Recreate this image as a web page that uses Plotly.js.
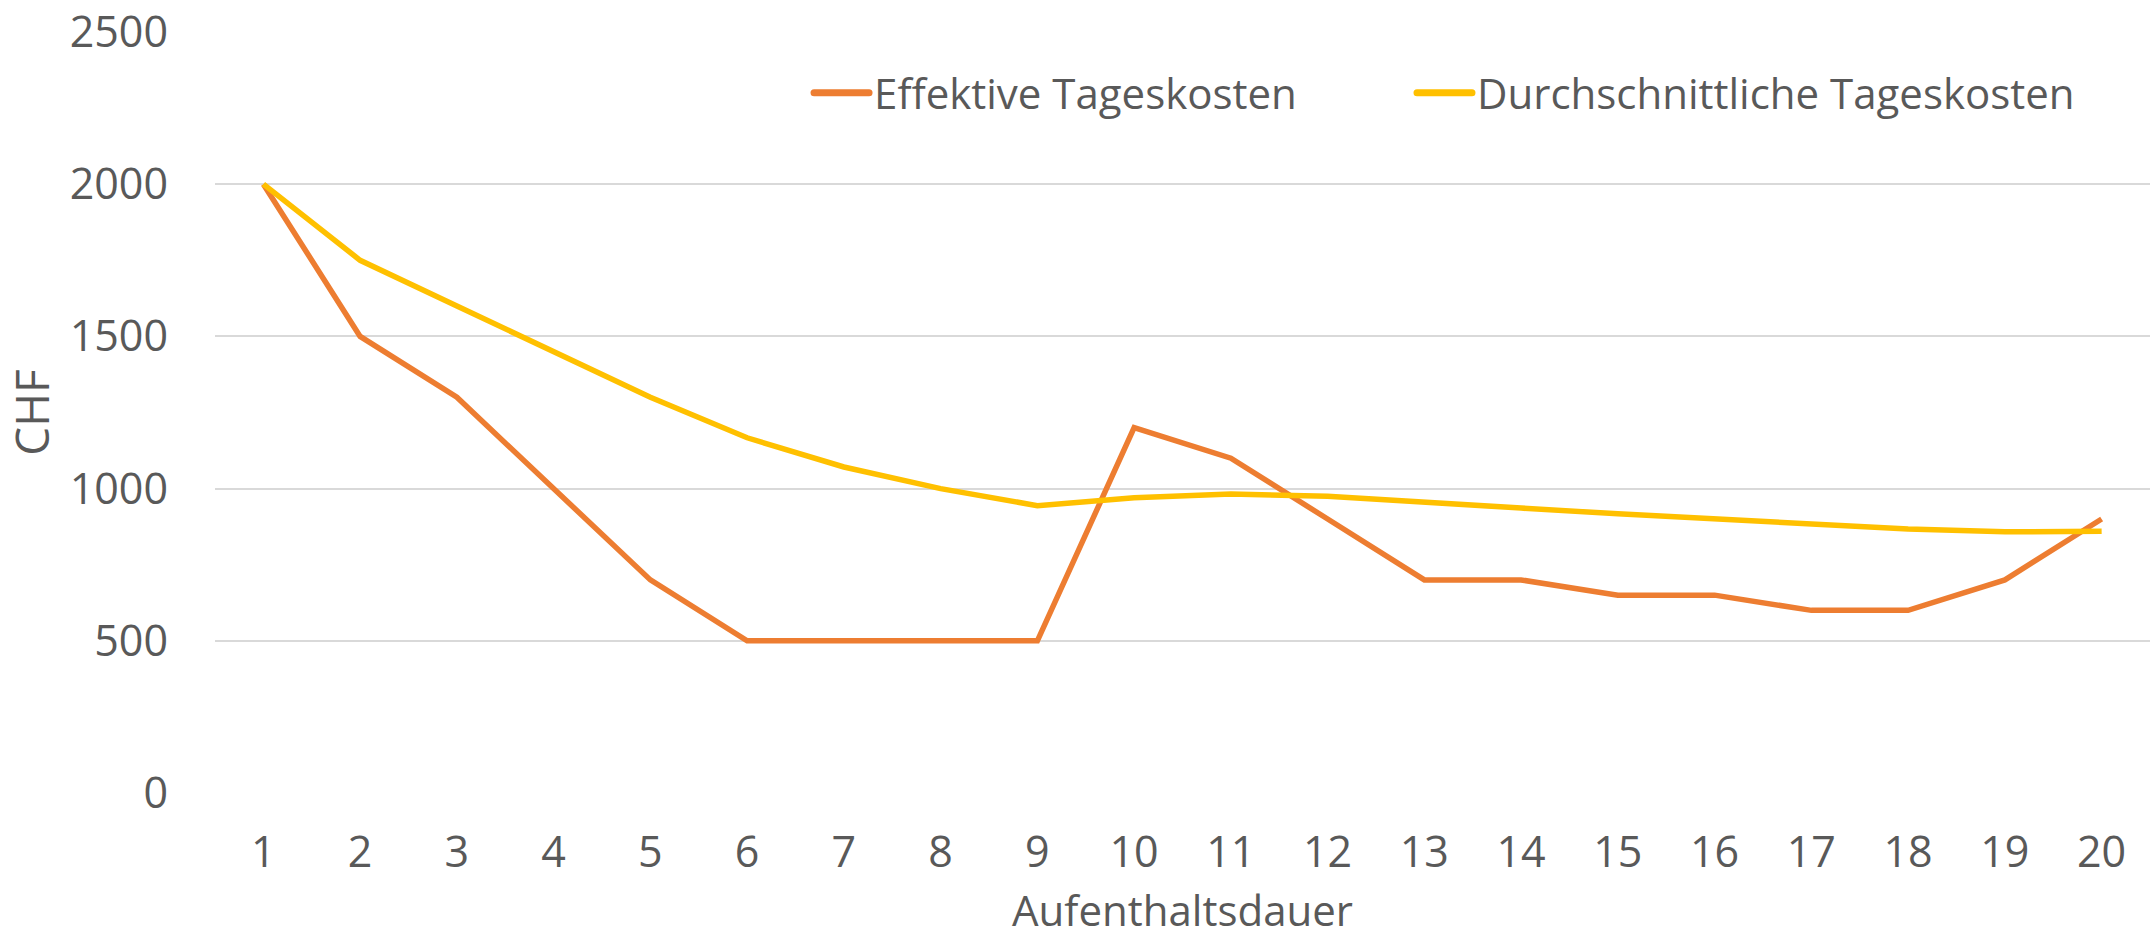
<!DOCTYPE html>
<html>
<head>
<meta charset="utf-8">
<script src="https://cdn.plot.ly/plotly-3.0.1.min.js"></script>
<style>html,body{margin:0;padding:0;background:#fff;}#chart{width:2150px;height:938px;}</style>
</head>
<body>
<div id="chart"></div>
<script>
const days = [1,2,3,4,5,6,7,8,9,10,11,12,13,14,15,16,17,18,19,20];
const effektive = [2000,1500,1300,1000,700,500,500,500,500,1200,1100,900,700,700,650,650,600,600,700,900];
const durchschnitt = [2000,1750,1600,1450,1300,1167,1071,1000,944,970,982,975,954,936,917,900,882,867,858,860];
const tickLabels = days.map(String);
const yTicks = [0,500,1000,1500,2000,2500];

const FONT = '"Open Sans", sans-serif';
const TXT = '#595959';

const traces = [
  {x: days, y: effektive, type: 'scatter', mode: 'lines', name: 'Effektive Tageskosten',
   legend: 'legend',
   line: {color: '#ED7D31', width: 5.5, shape: 'linear'}},
  {x: days, y: durchschnitt, type: 'scatter', mode: 'lines', name: 'Durchschnittliche Tageskosten',
   legend: 'legend2',
   line: {color: '#FFC000', width: 5.5, shape: 'linear'}}
];

const legendBase = {orientation: 'h', xanchor: 'left', y: 0.92, yanchor: 'middle',
  font: {family: FONT, size: 42, color: TXT}, itemwidth: 55, bgcolor: 'rgba(0,0,0,0)'};

const layout = {
  width: 2150, height: 938,
  margin: {l: 215, r: 0, t: 32, b: 145},
  paper_bgcolor: '#fff', plot_bgcolor: '#fff',
  font: {family: FONT, color: TXT, size: 42},
  showlegend: true,
  legend: Object.assign({}, legendBase, {x: 0.307}),
  legend2: Object.assign({}, legendBase, {x: 0.6186}),
  xaxis: {range: [0.5, 20.5], tickmode: 'array', tickvals: days, ticktext: tickLabels,
          showgrid: false, zeroline: false, showline: false, ticks: '',
          ticklabelstandoff: 30,
          tickfont: {family: FONT, size: 43, color: TXT},
          title: {text: 'Aufenthaltsdauer', font: {family: FONT, size: 42, color: TXT}, standoff: 40}},
  yaxis: {range: [0, 2500], tickmode: 'array', tickvals: yTicks, ticktext: yTicks.map(String),
          showgrid: true, gridcolor: '#D9D9D9', gridwidth: 2, zeroline: false, showline: false, ticks: '',
          ticklabelstandoff: 46,
          tickfont: {family: FONT, size: 43, color: TXT},
          title: {text: 'CHF', font: {family: FONT, size: 46, color: TXT}, standoff: 8}}
};

Plotly.newPlot('chart', traces, layout, {displayModeBar: false, staticPlot: true}).then(function (gd) {
  // lengthen legend line samples to match the reference
  gd.querySelectorAll('.legendlines path').forEach(function (p) {
    p.setAttribute('d', 'M5,0h55');
    p.style.strokeWidth = '7px';
    p.style.strokeLinecap = 'round';
  });
});
</script>
</body>
</html>
